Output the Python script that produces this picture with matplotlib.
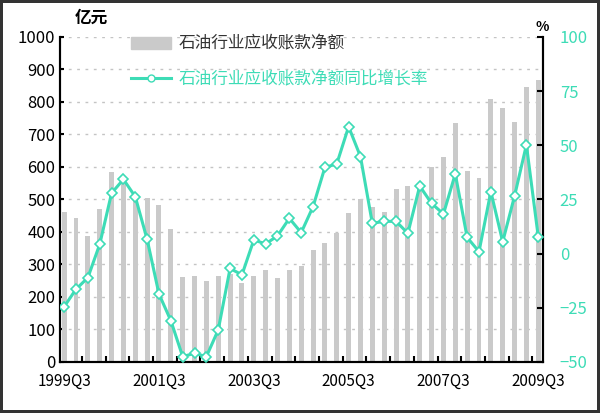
import numpy as np
import matplotlib
matplotlib.use("Agg")
import matplotlib.pyplot as plt
from matplotlib.lines import Line2D
from matplotlib.patches import Patch

plt.rcParams['font.family'] = ['Liberation Sans Narrow', 'Noto Sans CJK SC', 'DejaVu Sans']

# quarterly data, 1999Q3 .. 2009Q3
quarters = []
for y in range(1999, 2010):
    for q in range(1, 5):
        if (y, q) >= (1999, 3) and (y, q) <= (2009, 3):
            quarters.append(f"{y}Q{q}")

receivables = [462, 443, 388, 472, 585, 560, 507, 505, 482, 410,
               260, 265, 248, 265, 272, 244, 265, 282, 258, 282,
               296, 344, 366, 398, 458, 500, 478, 460, 531, 542,
               548, 601, 632, 735, 589, 566, 808, 781, 739, 847, 869]
growth = [-24.5, -16.4, -11.1, 4.3, 27.9, 34.3, 26.3, 6.6, -18.6, -30.9,
          -47.5, -46.0, -47.5, -35.2, -6.8, -9.8, 6.3, 4.5, 8.2, 16.3,
          9.7, 21.7, 39.8, 41.4, 58.6, 44.8, 14.0, 14.9, 14.9, 9.4,
          31.2, 23.2, 18.3, 36.8, 7.5, 0.9, 28.6, 5.5, 26.6, 50.2, 7.8]

bar_label = "石油行业应收账款净额"
line_label = "石油行业应收账款净额同比增长率"

teal = "#3ddcb6"
x = np.arange(len(quarters))

fig = plt.figure(figsize=(6, 4.13), dpi=100)
fig.patch.set_edgecolor("#333333")
fig.patch.set_linewidth(3)
ax = fig.add_axes([0.1, 0.1235, 0.805, 0.787])
ax2 = ax.twinx()

ax.bar(x, receivables, width=0.42, color="#cacaca", zorder=2)
ax.set_ylim(0, 1000)
ax.set_xlim(-0.35, 40.4)
ax.set_yticks(np.arange(0, 1001, 100))
ax.grid(axis="y", color="#c4c4c4", ls=(0, (2, 4)), lw=1, zorder=1)
ax.set_axisbelow(True)

ax2.plot(x, growth, color=teal, lw=2.2, marker="D", ms=5,
         mfc="white", mec=teal, mew=1.2, zorder=3)
ax2.set_ylim(-50, 100)
ax2.set_yticks(np.arange(-50, 101, 25))

for a in (ax, ax2):
    a.spines["top"].set_visible(False)
    a.spines["left"].set_linewidth(1.5)
    a.spines["right"].set_linewidth(1.5)
    a.spines["bottom"].set_linewidth(1.5)

ax.set_xticks(x[::8])
ax.set_xticklabels(quarters[::8], fontsize=11)
ax.set_xticks(np.arange(1.5, 40, 2), minor=True)
ax.tick_params(axis="x", which="major", length=0, pad=8)
ax.tick_params(axis="x", which="minor", direction="in", length=4, width=1.5)
ax.tick_params(axis="y", direction="in", length=3, width=1.5, labelsize=12)
ax2.tick_params(axis="y", direction="in", length=4, width=1.5, labelsize=12,
                labelcolor=teal, pad=12)

fig.text(0.125, 0.945, "亿元", fontsize=12, fontweight="bold",
         family=["Noto Sans CJK SC"])
fig.text(0.893, 0.925, "%", fontsize=10, fontweight="bold")

handles = [Patch(color="#cacaca"),
           Line2D([], [], color=teal, lw=2.2, marker="o", ms=5, mfc="white", mec=teal)]
leg = ax.legend(handles, [bar_label, line_label], loc="upper left",
                bbox_to_anchor=(0.115, 1.05), frameon=False, labelspacing=1.1,
                handlelength=2.4, handletextpad=0.5,
                prop={"family": ["Noto Sans CJK SC"], "size": 12})
leg.get_texts()[0].set_color("#333333")
leg.get_texts()[1].set_color(teal)

fig.savefig("out.png", dpi=100)
